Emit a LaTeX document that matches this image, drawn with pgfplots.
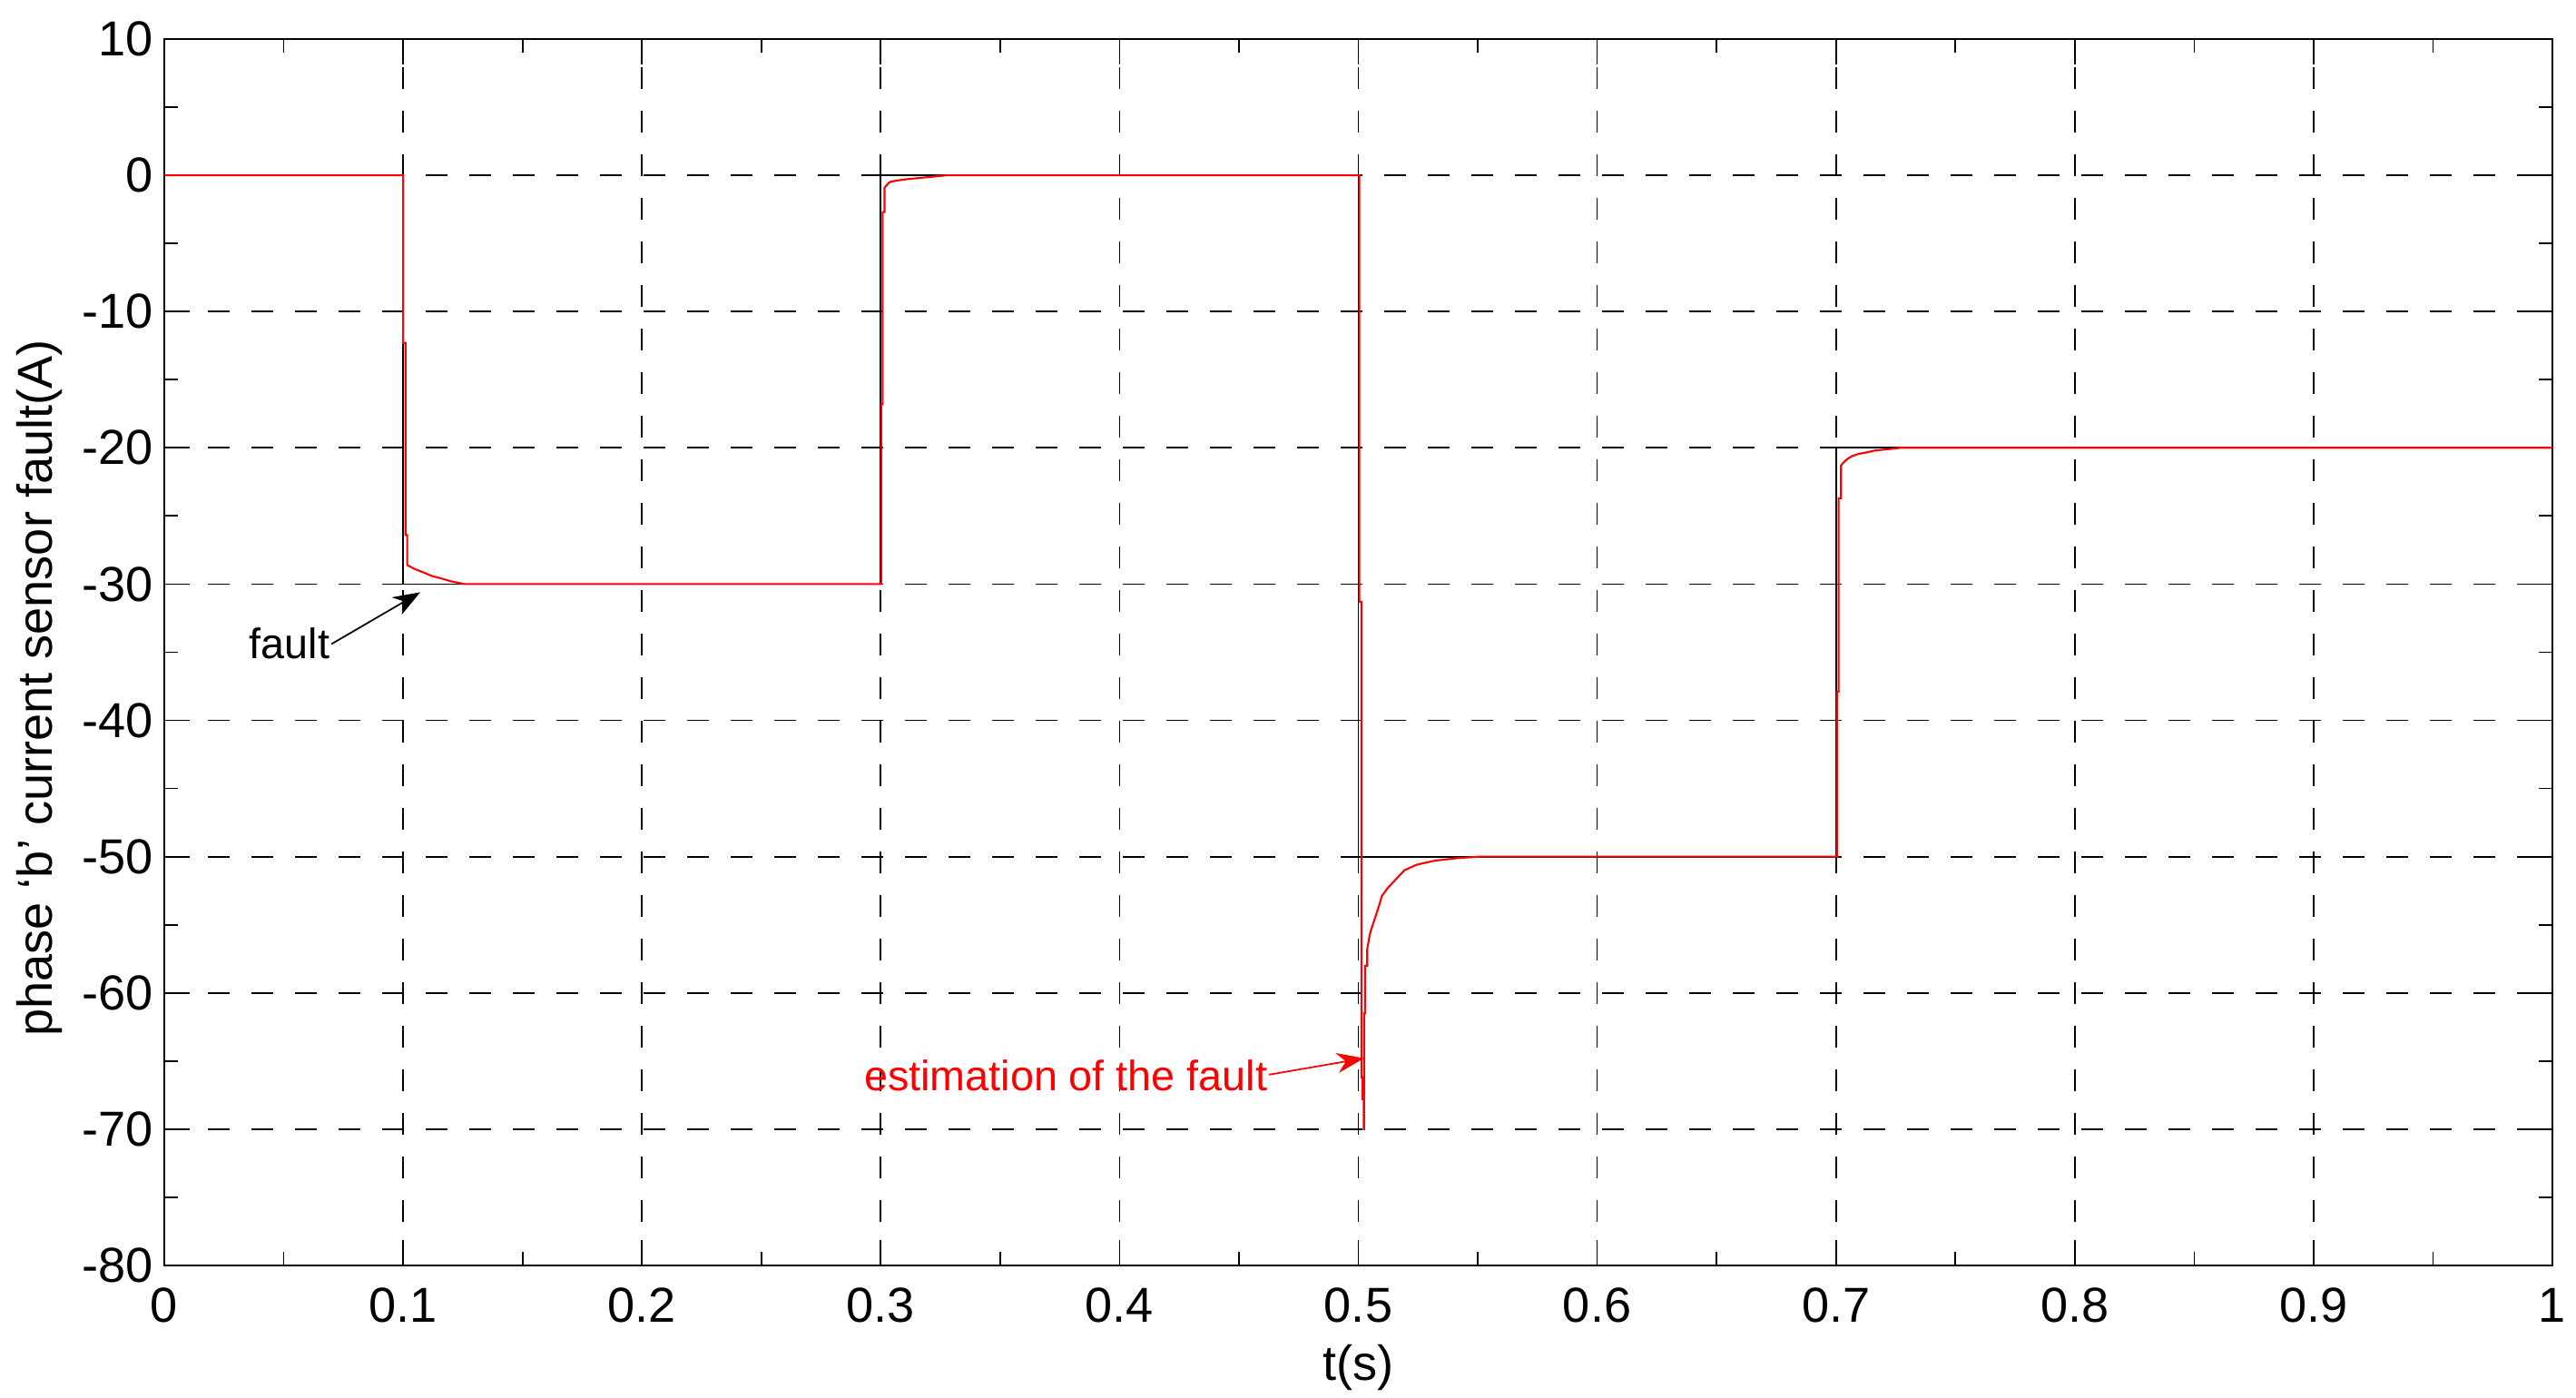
\documentclass[border=0pt]{standalone}
\usepackage{fontspec}
\setmainfont{Liberation Sans}
\usepackage{pgfplots}
\pgfplotsset{compat=1.18}
\usetikzlibrary{arrows.meta}

\begin{document}
\begin{tikzpicture}
\begin{axis}[
  name=ax,
  scale only axis,
  width=26.31cm, height=13.51cm,
  xmin=0, xmax=1, ymin=-80, ymax=10,
  xtick={0,0.1,0.2,0.3,0.4,0.5,0.6,0.7,0.8,0.9,1},
  xticklabels={0,0.1,0.2,0.3,0.4,0.5,0.6,0.7,0.8,0.9,1},
  ytick={-80,-70,-60,-50,-40,-30,-20,-10,0,10},
  yticklabels={-80,-70,-60,-50,-40,-30,-20,-10,0,10},
  minor x tick num=1, minor y tick num=1,
  tick align=inside, tick pos=both,
  major tick length=0.28cm, minor tick length=0.15cm,
  grid=major,
  major grid style={black, line width=0.5pt, dash pattern=on 0.24cm off 0.24cm},
  axis line style={black, line width=0.55pt},
  every tick/.style={black, line width=0.5pt},
  tick label style={font=\fontsize{15.4}{18}\selectfont, inner sep=0pt},
  xticklabel style={anchor=base, yshift=-0.63cm},
  yticklabel style={anchor=east, xshift=-0.12cm},
  xlabel={t(s)},
  xlabel style={at={(axis description cs:0.5,-0.0933)}, anchor=base, inner sep=0pt, font=\fontsize{15.4}{18}\selectfont},
  ylabel={phase ‘b’ current sensor fault(A)},
  ylabel style={at={(axis description cs:-0.04675,0.4708)}, anchor=base, inner sep=0pt, font=\fontsize{15.4}{18}\selectfont},
]
% actual fault
\addplot[black, line width=0.5pt] coordinates {
 (0,0) (0.1,0) (0.1,-30) (0.3,-30) (0.3,0) (0.5,0) (0.5,-50) (0.7,-50) (0.7,-20) (1,-20)
};
% estimation of the fault
\addplot[red, line width=0.6pt] coordinates {
 (0,0) (0.1,0) (0.1,-12.3) (0.1010,-12.3) (0.1010,-26.4) (0.1017,-26.4) (0.1017,-28.6)
 (0.1049,-28.9) (0.1093,-29.2) (0.1119,-29.4) (0.1163,-29.6) (0.1201,-29.8) (0.1257,-30)
 (0.3002,-30) (0.3002,-16.8) (0.3008,-16.8) (0.3008,-2.7) (0.3016,-2.7) (0.3016,-0.9)
 (0.3037,-0.5) (0.3062,-0.4) (0.3103,-0.3) (0.3189,-0.15) (0.3278,0)
 (0.5004,0) (0.5004,-31.3) (0.5013,-31.3) (0.5013,-66.2) (0.5018,-66.2) (0.5018,-67.8)
 (0.5022,-67.8) (0.5022,-70) (0.5024,-70) (0.5024,-61.5) (0.5028,-61.5) (0.5028,-58.0)
 (0.5037,-58.0) (0.5037,-56.8) (0.5047,-55.8) (0.5053,-55.4) (0.5066,-54.7) (0.5085,-53.7)
 (0.5098,-52.9) (0.5123,-52.3) (0.5155,-51.7) (0.5193,-51.0) (0.5243,-50.6) (0.5319,-50.3)
 (0.5421,-50.1) (0.5510,-50)
 (0.7004,-50) (0.7004,-37.9) (0.7011,-37.9) (0.7011,-23.7) (0.7021,-23.7) (0.7021,-21.3)
 (0.7030,-21.1) (0.7049,-20.8) (0.7068,-20.6) (0.7094,-20.45) (0.7125,-20.35) (0.7163,-20.2)
 (0.7271,-20) (1,-20)
};
\draw[black, line width=0.5pt, -{Stealth[length=0.3cm,width=0.22cm]}] (axis cs:0.0700,-34.4) -- (axis cs:0.1072,-30.6);
\node[anchor=base east, inner sep=0pt, font=\fontsize{13.3}{16}\selectfont] at (axis cs:0.0695,-35.5) {fault};
\draw[red, line width=0.5pt, -{Stealth[length=0.3cm,width=0.22cm]}] (axis cs:0.4626,-66.0) -- (axis cs:0.5024,-64.8);
\node[red, anchor=base east, inner sep=0pt, font=\fontsize{13.3}{16}\selectfont] at (axis cs:0.4622,-67.2) {estimation of the fault};
\end{axis}
\path[use as bounding box] ([xshift=-1.81cm,yshift=-1.46cm]ax.south west) rectangle ([xshift=0.26cm,yshift=0.43cm]ax.north east);
\end{tikzpicture}
\end{document}
